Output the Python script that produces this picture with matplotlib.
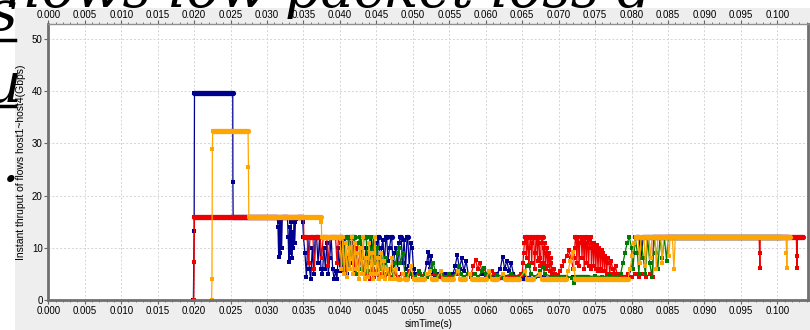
import matplotlib
matplotlib.use("Agg")
import matplotlib.pyplot as plt
from matplotlib.ticker import MultipleLocator
from matplotlib.transforms import ScaledTranslation
import numpy as np

plt.rcParams['font.family'] = ['Liberation Sans', 'DejaVu Sans']

# (simTime in ms, throughput in Gbps)
blue_pts = [
    (19.9, 0), (20.0, 13.2), (20.05, 39.6), (25.3, 39.6), (25.32, 22.6), (25.35, 16), (31.4, 16),
    (31.5, 14), (31.6, 8.2), (31.7, 15), (31.8, 9), (31.9, 15.5), (32.0, 10), (32.1, 16), (32.8, 16),
    (32.9, 12), (33.0, 7.2), (33.1, 14), (33.2, 9), (33.3, 15), (33.4, 8), (33.5, 13), (33.6, 10),
    (33.7, 15.5), (33.8, 11), (33.9, 15), (34.0, 15.5), (34.2, 16), (34.8, 16), (34.9, 15), (35.0, 12),
    (35.2, 9), (35.4, 4.5), (35.6, 12), (35.8, 6), (36.0, 4), (36.2, 10), (36.4, 5), (36.6, 12),
    (36.8, 12), (37.0, 7), (37.2, 12), (37.4, 6), (37.6, 5), (37.8, 10), (38.0, 6), (38.2, 11),
    (38.4, 5), (38.6, 8), (38.8, 12), (39.0, 6), (39.2, 4), (39.4, 5.5), (39.6, 4), (39.8, 10),
    (40.0, 5.5), (40.2, 11), (40.4, 6), (40.6, 12), (40.8, 6), (41.0, 5), (41.2, 8), (41.4, 6),
    (41.6, 11), (41.8, 7), (42.0, 5), (42.3, 9), (42.6, 6), (43.0, 8), (43.3, 5), (43.6, 10),
    (44.0, 7), (44.2, 12), (44.3, 12), (44.5, 6), (44.6, 9), (44.8, 11), (45.0, 7), (45.2, 12),
    (45.3, 12), (45.5, 6), (45.7, 10), (45.9, 11.5), (46.1, 7), (46.3, 12), (46.4, 12), (46.6, 7.5),
    (46.8, 10), (47.0, 12), (47.1, 12), (47.3, 6.5), (47.5, 9), (47.7, 10), (47.9, 6), (48.1, 11),
    (48.3, 12), (48.4, 12), (48.6, 7), (48.8, 11.5), (49.0, 6), (49.2, 12), (49.3, 12), (49.5, 6.5),
    (49.7, 11), (49.9, 10), (50.1, 6), (50.3, 5), (50.8, 5.5), (51.2, 4.5), (51.6, 5), (51.9, 7),
    (52.1, 9.2), (52.3, 6), (52.5, 8.5), (52.7, 5), (53.0, 4.5), (53.5, 5), (54.0, 4.5), (54.5, 5),
    (55.0, 4.5), (55.5, 5), (55.8, 6.5), (56.1, 8.6), (56.4, 6), (56.7, 8), (57.0, 5.5), (57.3, 7.5),
    (57.6, 5), (58.0, 4.5), (58.5, 5), (59.0, 4.5), (59.5, 5), (60.0, 4.5), (60.5, 5), (61.0, 4.5),
    (61.5, 5), (62.0, 6), (62.3, 8.3), (62.6, 6), (62.9, 7.5), (63.2, 5.5), (63.5, 7), (63.8, 5),
    (64.2, 4.5), (65.0, 4.3), (66.0, 4.3), (68.0, 4.4), (70.0, 4.3), (72.0, 4.4), (74.0, 4.3),
    (76.0, 4.4), (78.0, 4.3), (79.5, 4.4), (80.0, 6), (80.3, 9), (80.6, 12), (81.0, 12), (81.3, 8),
    (81.6, 12), (101.5, 12),
]

red_pts = [
    (19.95, 0), (20.0, 7.2), (20.05, 16), (35.0, 16), (35.05, 12), (35.5, 12), (35.7, 7), (35.9, 12),
    (36.3, 12), (36.5, 6), (36.7, 12), (37.3, 12), (37.5, 8), (37.7, 12), (38.2, 12), (38.4, 6.5),
    (38.6, 12), (39.4, 12), (39.6, 7), (39.8, 12), (40.3, 12), (40.5, 5.5), (40.7, 11), (41.0, 6),
    (41.3, 12), (41.8, 12), (42.0, 6.5), (42.3, 10), (42.6, 6), (42.9, 12), (43.2, 5), (43.5, 4),
    (43.8, 5), (44.1, 4), (44.4, 6), (44.7, 4.5), (45.0, 5.5), (45.4, 4.5), (45.8, 5), (46.2, 4.5),
    (46.6, 6), (47.0, 4.5), (47.5, 5), (48.0, 4.5), (48.5, 5), (49.0, 4.5), (49.5, 5.5), (50.0, 4.5),
    (51.0, 5), (52.0, 4.5), (53.0, 5), (54.0, 4.5), (55.0, 4.5), (56.0, 5), (57.0, 4.5), (58.0, 5),
    (58.3, 6.5), (58.6, 7.7), (58.9, 6), (59.2, 7), (59.5, 5.5), (59.8, 6), (60.2, 4.5), (60.8, 5.5),
    (61.2, 5), (61.6, 4.5), (62.0, 4.5), (63.0, 4.5), (64.0, 4.5), (64.8, 5),
    (65.0, 5), (65.1, 7), (65.2, 9), (65.3, 11), (65.4, 12), (65.5, 12), (65.6, 8), (65.7, 12),
    (65.8, 12), (65.9, 6.5), (66.0, 10), (66.1, 12), (66.2, 12), (66.3, 7), (66.4, 11), (66.5, 12),
    (66.6, 12), (66.7, 6), (66.8, 9), (66.9, 12), (67.0, 12), (67.1, 7.5), (67.2, 12), (67.3, 12),
    (67.4, 8), (67.5, 6.5), (67.6, 11), (67.7, 12), (67.8, 12), (67.9, 7), (68.0, 10), (68.1, 11),
    (68.2, 6), (68.3, 9), (68.4, 10), (68.5, 6.5), (68.6, 8.5), (68.7, 9), (68.8, 5.5), (68.9, 8),
    (69.0, 7), (69.1, 5), (69.3, 6), (69.5, 5), (69.9, 4.8), (70.2, 5.5), (70.5, 6.5), (70.8, 7.5),
    (71.1, 8.5), (71.4, 9.5), (71.7, 8),
    (72.0, 6), (72.1, 8), (72.2, 10), (72.3, 12), (72.4, 12), (72.5, 7), (72.6, 12), (72.7, 12),
    (72.8, 6.5), (72.9, 11), (73.0, 12), (73.1, 12), (73.2, 8), (73.3, 12), (73.4, 11.5), (73.5, 6),
    (73.6, 12), (73.7, 12), (73.8, 7), (73.9, 11), (74.0, 12), (74.1, 6.5), (74.2, 10), (74.3, 11.5),
    (74.4, 12), (74.5, 6), (74.6, 11), (74.7, 10.5), (74.8, 6.5), (74.9, 11), (75.0, 10), (75.1, 6),
    (75.2, 10.5), (75.3, 9.5), (75.4, 5.5), (75.5, 10), (75.6, 9.5), (75.7, 6), (75.8, 9), (75.9, 9.5),
    (76.0, 5.5), (76.1, 9), (76.2, 8.5), (76.3, 5.5), (76.4, 8.5), (76.5, 8), (76.6, 5), (76.7, 8),
    (76.9, 7), (77.0, 5), (77.2, 7.5), (77.4, 6), (77.6, 5), (77.8, 6.5), (78.0, 5), (78.5, 4.5),
    (79.0, 4.5), (79.5, 5), (80.0, 4.5), (80.5, 5), (81.0, 4.5), (81.5, 5), (82.0, 4.5), (82.5, 5),
    (82.9, 4.5), (83.0, 12), (97.5, 12), (97.55, 9), (97.6, 6.1), (97.65, 12), (102.6, 12),
    (102.65, 8.5), (102.7, 6.1), (102.75, 12), (103.5, 12),
]

green_pts = [
    (40.0, 12), (40.3, 12), (40.5, 7), (40.8, 12), (41.1, 12), (41.3, 6), (41.6, 12), (42.0, 12),
    (42.2, 5), (42.5, 11), (42.8, 12), (43.0, 6), (43.3, 12), (43.6, 12), (43.8, 5.5), (44.1, 12),
    (44.3, 8), (44.6, 12), (44.8, 7), (45.1, 10), (45.4, 6), (45.7, 9), (46.0, 5), (46.3, 8),
    (46.6, 5), (47.0, 6), (47.3, 4.5), (47.6, 7), (47.9, 9), (48.1, 10), (48.3, 7), (48.6, 9),
    (48.9, 5), (49.3, 4.5), (49.8, 5), (50.3, 4.5), (50.8, 5.5), (51.2, 4.5), (51.6, 5), (52.0, 4.5),
    (52.5, 6), (52.8, 7), (53.1, 5.5), (53.5, 4.5), (54.0, 5), (54.5, 4.5), (55.0, 5), (55.5, 4.5),
    (56.0, 5.5), (56.3, 6.5), (56.6, 5), (57.0, 4.5), (57.5, 5), (58.0, 4.5), (58.5, 5), (59.0, 4.5),
    (59.5, 5.5), (59.8, 6.2), (60.1, 5), (60.6, 4.5), (61.5, 4.8), (62.5, 4.5), (63.5, 5), (64.5, 4.5),
    (65.2, 5), (65.6, 6.5), (65.9, 6.8), (66.2, 5), (66.8, 4.5), (67.5, 5.5), (67.8, 6.3), (68.1, 5),
    (69.0, 4.5), (70.0, 4.5), (71.0, 4.5), (71.8, 4.3), (72.1, 3.2), (72.4, 4.5), (73.0, 4.5),
    (74.0, 4.5), (75.0, 4.6), (76.0, 4.5), (77.0, 4.6), (78.0, 4.5), (78.5, 5), (78.8, 7), (79.1, 9),
    (79.4, 11), (79.7, 12), (80.0, 10), (80.2, 6), (80.5, 12), (80.8, 9), (81.0, 5), (81.3, 12),
    (81.6, 8), (81.9, 5), (82.2, 12), (82.5, 7), (82.8, 4.5), (83.1, 12), (83.4, 9), (83.6, 6),
    (83.9, 12), (84.2, 8), (84.5, 12), (84.8, 7.5), (85.0, 12), (100.5, 12),
]

orange_pts = [
    (22.4, 0), (22.45, 4), (22.5, 29), (22.55, 32.3), (27.4, 32.3), (27.45, 25.5), (27.5, 16),
    (37.4, 16), (37.45, 15), (37.5, 12), (40.0, 12), (40.2, 6), (40.4, 12), (40.6, 5), (40.8, 11),
    (41.0, 4.5), (41.2, 10), (41.4, 6), (41.6, 12), (41.8, 5), (42.0, 11), (42.2, 6), (42.4, 9),
    (42.6, 4), (42.8, 10), (43.0, 5), (43.2, 12), (43.4, 4), (43.6, 8), (43.8, 4.5), (44.0, 11),
    (44.2, 5), (44.4, 9), (44.6, 4), (44.8, 12), (45.0, 5), (45.2, 8), (45.4, 4), (45.6, 9),
    (45.8, 4.5), (46.0, 7.5), (46.2, 4), (46.5, 6), (46.8, 4), (47.1, 8), (47.4, 4), (47.7, 6),
    (48.0, 4), (48.3, 4), (48.6, 5), (48.9, 4), (49.2, 4), (49.8, 6.5), (50.1, 4), (50.6, 4),
    (51.0, 4), (51.5, 4), (52.0, 5), (52.3, 5.5), (52.6, 4), (53.2, 4), (53.8, 5.5), (54.1, 4),
    (54.8, 4), (55.5, 4), (56.2, 5.5), (56.5, 4), (57.2, 4), (57.8, 5), (58.1, 4), (59.0, 4),
    (60.0, 4), (60.5, 5.5), (60.8, 4), (61.6, 4), (62.4, 5), (62.7, 4), (63.6, 4), (64.5, 4),
    (65.4, 5.5), (65.7, 4), (66.5, 4), (67.4, 5), (67.7, 4), (68.6, 4), (69.5, 4), (70.3, 4),
    (71.0, 4), (71.3, 5.5), (71.6, 7.5), (71.9, 9.2), (72.1, 6), (72.3, 4), (73.0, 4), (74.0, 4),
    (75.0, 4), (76.0, 4), (77.0, 4), (78.0, 4), (79.0, 4), (79.5, 4), (79.8, 6), (80.1, 8.5),
    (80.4, 11), (80.6, 12), (80.9, 12), (81.1, 7), (81.3, 12), (81.7, 12), (81.9, 6.5), (82.1, 12),
    (82.4, 12), (82.6, 8), (82.8, 12), (83.2, 12), (83.4, 6), (83.6, 12), (84.0, 12), (84.2, 7),
    (84.4, 12), (84.9, 12), (85.1, 8.5), (85.3, 12), (85.6, 12), (85.8, 6), (86.0, 12), (101.2, 12),
    (101.25, 9), (101.3, 6.1), (101.35, 12), (101.7, 12),
]

series = [
    (blue_pts, '#00008f'),
    (red_pts, '#ee0000'),
    (green_pts, '#007a00'),
    (orange_pts, '#ffa500'),
]

W, H = 810, 330
fig = plt.figure(figsize=(8.1, 3.3), dpi=100, facecolor='white')

# grey panel of the chart window (the screenshot sits on a slide)
panel = fig.add_axes([15 / W, 0, 1 - 15 / W, 1 - 8 / H], zorder=-5)
panel.set_facecolor('#eeeeee')
panel.set_xticks([])
panel.set_yticks([])
for s in panel.spines.values():
    s.set_visible(False)

# bits of slide text showing at the left and top edges, cut by the canvas border
slide_font = dict(family='DejaVu Serif', style='italic', color='black', va='baseline',
                  ha='left', fontsize=40)
for x, y, s in [(-12, 30, 's'), (-15, 102, 'u'), (1, 181, '.'),
                (6, 7, 'hows low packet loss d')]:
    fig.text(x / W, 1 - y / H, s, **slide_font)
for y in [40, 106]:
    fig.add_artist(plt.Line2D([0, 15 / W], [1 - y / H] * 2, color='black', lw=2.5))

ax = fig.add_axes([48.3 / W, 30 / H, (808 - 48.3) / W, (300 - 23.5) / H], zorder=0)
ax.set_facecolor('white')

for pts, c in series:
    t = np.array([p[0] for p in pts]) / 1000.0
    v = np.array([p[1] for p in pts], dtype=float)
    ax.plot(t, v, color=c, lw=0.9, marker='s', ms=3, mew=0, clip_on=False)
    # flat runs look thick in the original (dense samples)
    for i in range(len(v) - 1):
        if v[i] == v[i + 1]:
            ax.plot(t[i:i + 2], v[i:i + 2], color=c, lw=3.8, solid_capstyle='round')

ax.set_xlim(0, 0.1042)
ax.set_ylim(0, 53)
ax.xaxis.set_major_locator(MultipleLocator(0.005))
ax.xaxis.set_minor_locator(MultipleLocator(0.001))
ax.yaxis.set_major_locator(MultipleLocator(10))
ax.xaxis.set_major_formatter(plt.FuncFormatter(lambda x, p: f'{x:.3f}'))
ax.tick_params(axis='x', which='both', top=True, labeltop=True, labelsize=7,
               color='#666666', pad=1.5)
ax.tick_params(axis='x', which='major', length=3)
ax.tick_params(axis='x', which='minor', length=1.5)
ax.tick_params(axis='y', labelsize=7, length=3, color='#666666', pad=1)
ax.grid(True, which='major', linestyle=(0, (2, 2)), color='#d4d4d4', lw=0.7)
ax.set_axisbelow(True)

# push top labels a bit higher, as in the screenshot
for tk in ax.xaxis.get_major_ticks():
    tk.label2.set_transform(ax.get_xaxis_transform() +
                            ScaledTranslation(0, 4 / 100, fig.dpi_scale_trans))

for side in ['left', 'bottom', 'right']:
    ax.spines[side].set_color('#707070')
    ax.spines[side].set_linewidth(2)
ax.spines['top'].set_color('#909090')
ax.spines['top'].set_linewidth(1)

ax.set_xlabel('simTime(s)', fontsize=7, labelpad=2)
ax.set_ylabel('Instant thruput of flows host1~host4(Gbps)', fontsize=7.5, labelpad=4)

fig.savefig('out.png', dpi=100, facecolor=fig.get_facecolor())
